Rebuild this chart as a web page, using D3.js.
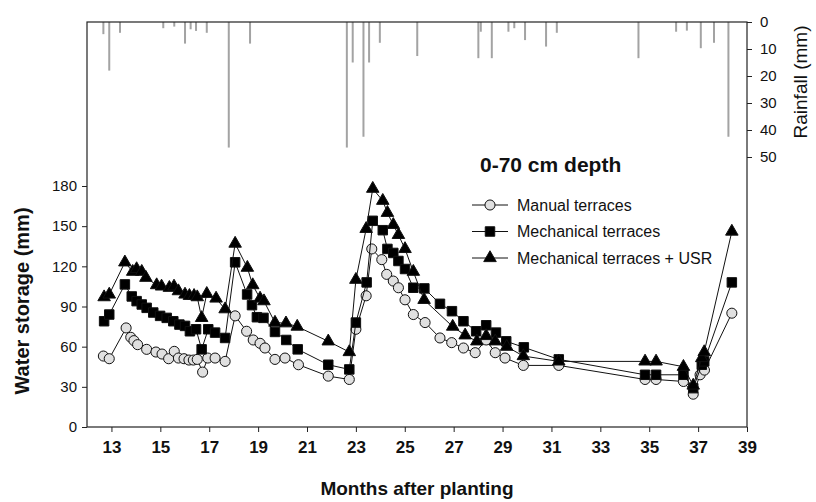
<!DOCTYPE html>
<html>
<head>
<meta charset="utf-8">
<title>Water storage 0-70 cm</title>
<script src="https://cdn.jsdelivr.net/npm/d3@7"></script>
<style>
  body { margin: 0; background: #fff; }
  text { font-family: "Liberation Sans", Arial, sans-serif; fill: #111; }
</style>
</head>
<body>
<script>
// months after planting / water storage (mm)
var manualMonths = [12.67, 12.91, 13.6, 13.79, 13.92, 14.07, 14.44, 14.82, 15.07, 15.34, 15.57, 15.74, 15.97, 16.17, 16.35, 16.51, 16.73, 16.94, 17.24, 17.65, 18.06, 18.53, 18.8, 19.08, 19.28, 19.69, 20.1, 20.65, 21.87, 22.73, 23.0, 23.42, 23.65, 24.06, 24.26, 24.53, 24.74, 25.01, 25.35, 25.83, 26.44, 26.92, 27.4, 27.88, 28.33, 28.7, 29.1, 29.85, 31.3, 34.83, 35.28, 36.4, 36.8, 37.08, 37.26, 38.38];
var manualValues = [53, 51, 74, 67, 64.5, 61.5, 58, 56, 54.5, 51, 56.5, 51.5, 51, 50, 50, 50.5, 41, 51.5, 51.5, 49, 83, 71.5, 65, 62.5, 59, 50.5, 51.5, 46.5, 38, 35.5, 73, 98, 133, 125, 114, 109, 104, 95, 84, 78, 66.5, 63, 59, 55.5, 65, 55.5, 51.5, 46, 46, 35.5, 35.5, 34, 24.5, 39, 42.5, 85];

var mechMonths = [12.7, 12.91, 13.55, 13.83, 14.03, 14.24, 14.44, 14.71, 14.99, 15.26, 15.53, 15.78, 16.01, 16.21, 16.46, 16.69, 16.96, 17.24, 17.65, 18.06, 18.55, 18.75, 18.95, 19.22, 19.69, 20.15, 20.62, 21.87, 22.73, 23.0, 23.44, 23.69, 24.1, 24.29, 24.53, 24.74, 25.01, 25.35, 25.8, 26.44, 26.93, 27.4, 27.92, 28.33, 28.73, 29.15, 29.87, 31.3, 34.83, 35.28, 36.4, 36.8, 37.15, 37.25, 38.38];
var mechValues = [79, 84, 106.5, 97.5, 94, 91.5, 89, 85.5, 83, 81.5, 79, 76.5, 75.5, 71.5, 73, 58, 73, 70.5, 66.5, 123, 99, 91, 82, 81.5, 71, 65, 58, 46.5, 43, 78, 108, 154, 147, 133, 130, 124, 118, 104, 103.5, 92, 86.5, 79, 71.5, 76, 70.5, 64, 59.5, 50.5, 39, 39, 39, 29, 46.5, 49, 108];

var usrMonths = [12.7, 12.91, 13.55, 13.87, 14.03, 14.24, 14.41, 14.85, 15.05, 15.37, 15.56, 15.74, 16.01, 16.19, 16.38, 16.51, 16.69, 16.9, 17.28, 17.65, 18.06, 18.56, 18.78, 19.08, 19.24, 19.69, 20.14, 20.6, 21.87, 22.73, 23.0, 23.42, 23.69, 24.1, 24.29, 24.53, 24.74, 25.01, 25.35, 25.79, 26.96, 27.47, 27.95, 28.33, 28.7, 29.17, 29.85, 31.3, 34.83, 35.28, 36.4, 36.8, 37.15, 37.25, 38.38];
var usrValues = [97, 99, 123, 116, 118, 116, 111.5, 106, 105, 104, 105, 101.5, 99, 98, 98, 97, 81.5, 99.5, 96, 88, 137, 119, 106, 96, 94, 78, 77.5, 75, 64, 56, 110, 148, 178, 169, 160, 151, 143.5, 133, 116, 95, 75, 68.5, 64, 68, 64, 60, 53, 49, 49, 49, 45, 31, 51.5, 56, 146];

// daily rainfall (mm), hanging from the top axis
var rainMonths = [12.67, 12.91, 13.35, 15.12, 15.57, 16.01, 16.24, 16.46, 16.9, 17.8, 18.67, 22.63, 22.87, 23.31, 23.54, 23.98, 25.51, 28.01, 28.11, 28.56, 29.24, 29.48, 29.92, 30.78, 31.22, 34.56, 36.1, 36.54, 37.11, 37.65, 38.24];
var rainValues = [4.5, 18, 4, 2.3, 1.7, 8, 2.7, 3.3, 4, 46.5, 8, 46.5, 15, 42.5, 15, 7.7, 12.6, 13.4, 3.6, 13.4, 3.6, 2.3, 6.7, 9.1, 4, 13.4, 3.6, 3.2, 9.7, 7.7, 42.5];

var xTicks = d3.range(13, 40, 2);
var yTicks = d3.range(0, 181, 30);
var rainTicks = d3.range(0, 51, 10);

var seriesNames = ["Manual terraces", "Mechanical terraces", "Mechanical terraces + USR"];

var width = 816, height = 502;
var plotLeft = 87, plotRight = 747, plotTop = 22, plotBottom = 427;

var svg = d3.select("body").append("svg")
  .attr("width", width)
  .attr("height", height);

var x = d3.scaleLinear().domain([12, 39]).range([plotLeft, plotRight]);
var y = d3.scaleLinear().domain([0, 180]).range([plotBottom, 186]);
var yRain = d3.scaleLinear().domain([0, 50]).range([plotTop, 157]);

// rainfall bars
svg.append("g").selectAll("rect")
  .data(rainMonths.map(function(m, i) { return { m: m, v: rainValues[i] }; }))
  .enter().append("rect")
  .attr("x", function(d) { return x(d.m) - 1; })
  .attr("y", yRain(0))
  .attr("width", 2)
  .attr("height", function(d) { return yRain(d.v) - yRain(0); })
  .attr("fill", "#a3a3a3");

// frame
svg.append("rect")
  .attr("x", plotLeft).attr("y", plotTop)
  .attr("width", plotRight - plotLeft).attr("height", plotBottom - plotTop)
  .attr("fill", "none").attr("stroke", "#222").attr("stroke-width", 1.2);

// axes
var gx = svg.append("g")
  .attr("transform", "translate(0," + plotBottom + ")")
  .call(d3.axisBottom(x).tickValues(xTicks).tickSize(5).tickPadding(9).tickSizeOuter(0));
gx.select(".domain").remove();
gx.selectAll("text")
  .style("font-family", "'Liberation Sans Narrow', 'Liberation Sans', Arial, sans-serif")
  .style("font-size", "17px").style("font-weight", "bold");

var gy = svg.append("g")
  .attr("transform", "translate(" + plotLeft + ",0)")
  .call(d3.axisLeft(y).tickValues(yTicks).tickSize(5).tickPadding(5).tickSizeOuter(0));
gy.select(".domain").remove();
gy.selectAll("text").style("font-size", "15px");

var gr = svg.append("g")
  .attr("transform", "translate(" + plotRight + ",0)")
  .call(d3.axisRight(yRain).tickValues(rainTicks).tickSize(5).tickPadding(8).tickSizeOuter(0));
gr.select(".domain").remove();
gr.selectAll("text").style("font-size", "15px");

svg.selectAll(".tick line").attr("stroke", "#222");

// axis titles
svg.append("text")
  .attr("x", (plotLeft + plotRight) / 2).attr("y", 495)
  .attr("text-anchor", "middle")
  .style("font-size", "19px").style("font-weight", "bold")
  .text("Months after planting");

svg.append("text")
  .attr("transform", "translate(29,301) rotate(-90)")
  .attr("text-anchor", "middle")
  .style("font-size", "20px").style("font-weight", "bold")
  .text("Water storage (mm)");

svg.append("text")
  .attr("transform", "translate(807,82) rotate(-90)")
  .attr("text-anchor", "middle")
  .style("font-size", "19px")
  .text("Rainfall (mm)");

// series
var symbols = [d3.symbolCircle, d3.symbolSquare, d3.symbolTriangle];
var sizes = [80, 90, 68];
var fills = ["#e0e0e0", "#000", "#000"];
var series = [
  { months: manualMonths, values: manualValues },
  { months: mechMonths, values: mechValues },
  { months: usrMonths, values: usrValues }
];

var line = d3.line()
  .x(function(d) { return x(d[0]); })
  .y(function(d) { return y(d[1]); });

series.forEach(function(s, k) {
  var pts = s.months.map(function(m, i) { return [m, s.values[i]]; });
  var g = svg.append("g");
  g.append("path")
    .attr("d", line(pts))
    .attr("fill", "none").attr("stroke", "#111").attr("stroke-width", 1);
  g.selectAll("path.pt")
    .data(pts)
    .enter().append("path")
    .attr("class", "pt")
    .attr("transform", function(d) { return "translate(" + x(d[0]) + "," + y(d[1]) + ")"; })
    .attr("d", d3.symbol().type(symbols[k]).size(sizes[k]))
    .attr("fill", fills[k])
    .attr("stroke", "#111").attr("stroke-width", 1);
});

// legend
svg.append("text")
  .attr("x", 480).attr("y", 172)
  .style("font-size", "21px").style("font-weight", "bold")
  .text("0-70 cm depth");

var legend = svg.append("g").selectAll("g")
  .data(seriesNames)
  .enter().append("g")
  .attr("transform", function(d, i) { return "translate(0," + (205 + i * 26.5) + ")"; });

legend.append("line")
  .attr("x1", 472).attr("x2", 508)
  .attr("stroke", "#111").attr("stroke-width", 1);

legend.append("path")
  .attr("transform", "translate(490,0)")
  .attr("d", function(d, i) { return d3.symbol().type(symbols[i]).size(sizes[i])(); })
  .attr("fill", function(d, i) { return fills[i]; })
  .attr("stroke", "#111").attr("stroke-width", 1);

legend.append("text")
  .attr("x", 517).attr("y", 5.5)
  .style("font-size", "16px")
  .text(function(d) { return d; });
</script>
</body>
</html>
